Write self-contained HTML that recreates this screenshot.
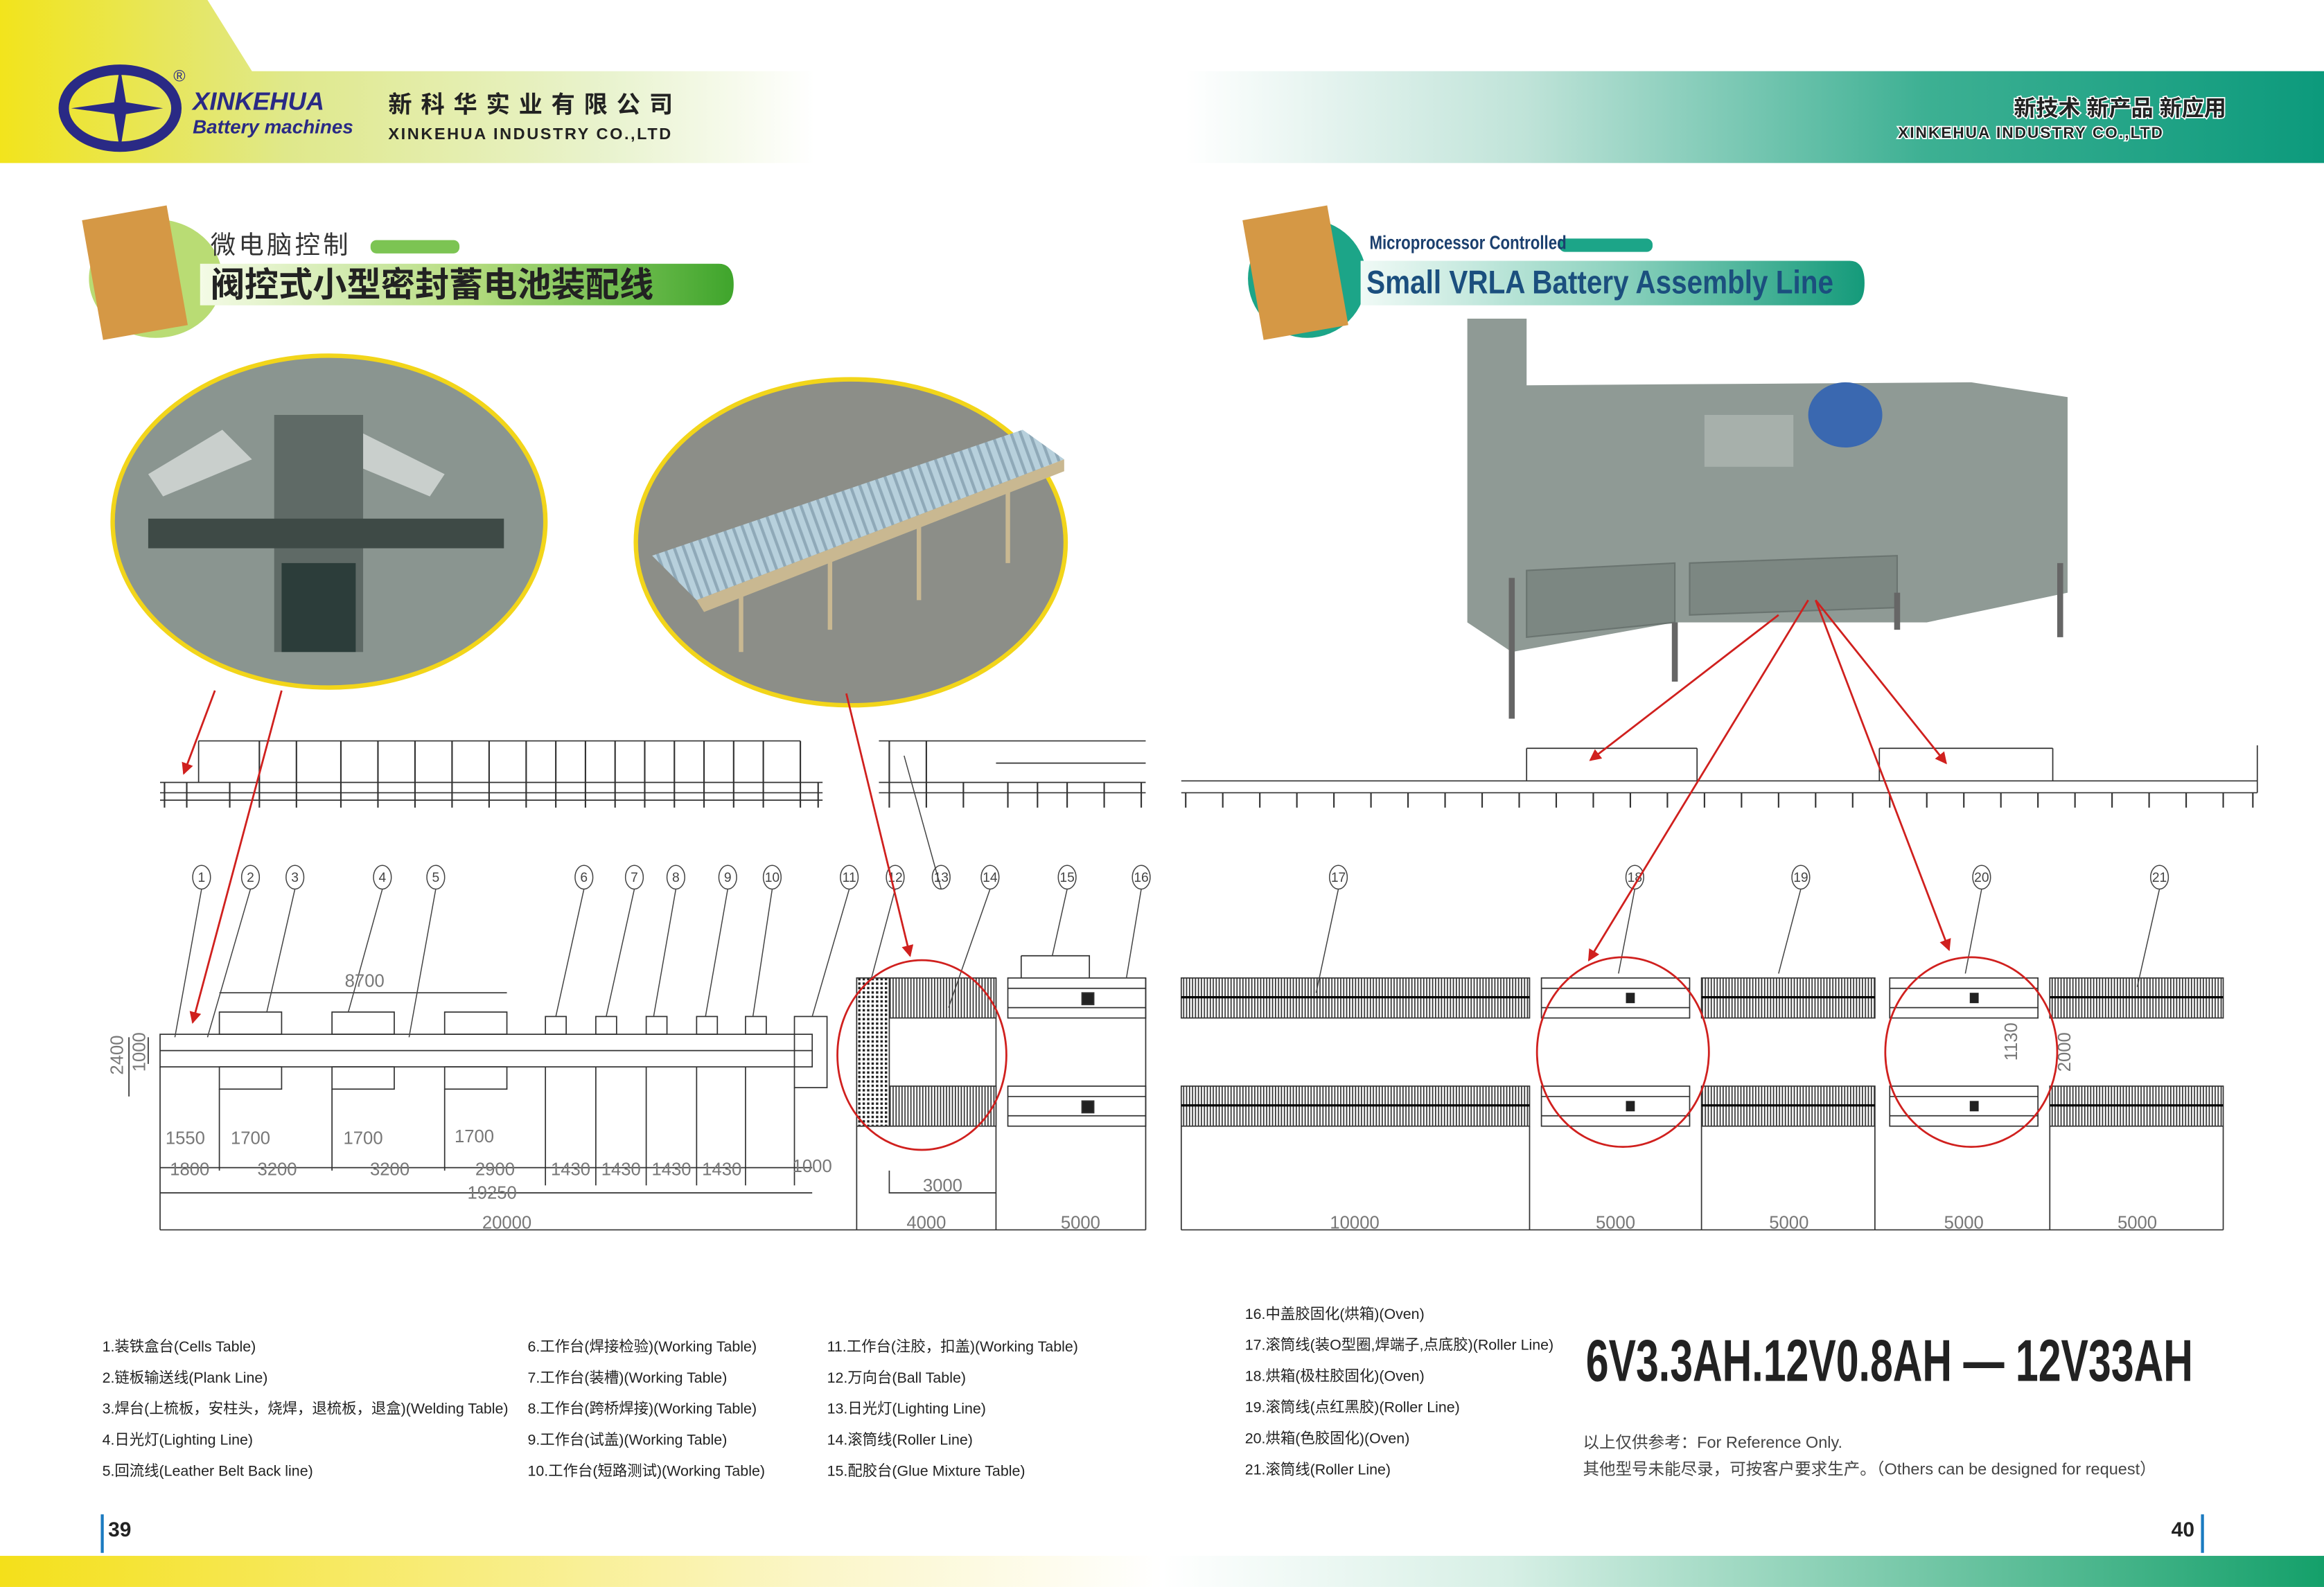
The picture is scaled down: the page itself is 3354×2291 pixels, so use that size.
<!DOCTYPE html>
<html><head><meta charset="utf-8"><style>
html,body{margin:0;padding:0;background:#fff;}
svg{display:block;}
text{font-family:"Liberation Sans","Noto Sans CJK SC",sans-serif;}
</style></head><body>
<svg width="3354" height="2291" viewBox="0 0 1568 1071" xmlns="http://www.w3.org/2000/svg">
<defs>
<linearGradient id="gy" x1="0" x2="1" y1="0" y2="0">
<stop offset="0" stop-color="#f2e41c"/><stop offset="0.35" stop-color="#dfe88a"/><stop offset="0.75" stop-color="#e9f3cf"/><stop offset="1" stop-color="#fff"/></linearGradient>
<linearGradient id="gg" x1="0" x2="1" y1="0" y2="0">
<stop offset="0" stop-color="#fff"/><stop offset="0.3" stop-color="#bfe3d8"/><stop offset="0.65" stop-color="#3db093"/><stop offset="1" stop-color="#0c9a7c"/></linearGradient>
<linearGradient id="gb" x1="0" x2="1"><stop offset="0" stop-color="#f4e01a"/><stop offset="0.35" stop-color="#fbf6c8"/><stop offset="0.5" stop-color="#fff"/><stop offset="0.65" stop-color="#d6efe5"/><stop offset="1" stop-color="#14a06a"/></linearGradient>
<linearGradient id="tg" x1="0" x2="1"><stop offset="0" stop-color="#f4fbe6"/><stop offset="0.5" stop-color="#b6dd80"/><stop offset="1" stop-color="#3fa52c"/></linearGradient>
<linearGradient id="tt" x1="0" x2="1"><stop offset="0" stop-color="#f0faf6"/><stop offset="0.5" stop-color="#8fd3c0"/><stop offset="1" stop-color="#149a7a"/></linearGradient>
<pattern id="hatch" width="2" height="10" patternUnits="userSpaceOnUse"><rect width="2" height="10" fill="#fff"/><line x1="0.6" y1="0" x2="0.6" y2="10" stroke="#333" stroke-width="0.8"/></pattern>
<pattern id="dots" width="3" height="3" patternUnits="userSpaceOnUse"><rect width="3" height="3" fill="#fff"/><rect width="1.6" height="1.6" fill="#222"/></pattern>
<pattern id="rol" width="6" height="6" patternUnits="userSpaceOnUse" patternTransform="rotate(-20)"><rect width="6" height="6" fill="#b7d0dc"/><rect width="2" height="6" fill="#8fa9b8"/></pattern>
<marker id="ar" markerWidth="8" markerHeight="8" refX="7" refY="4" orient="auto" markerUnits="userSpaceOnUse"><path d="M0,0 L8,4 L0,8 z" fill="#d0201e"/></marker>
</defs>

<!-- header left -->
<path d="M0,0 H140 L170,48 H550 V110 H0 Z" fill="url(#gy)"/>
<ellipse cx="81" cy="73" rx="38" ry="26" fill="none" stroke="#2a2a85" stroke-width="7"/>
<path d="M81,45 L85,69 L110,73 L85,77 L81,102 L77,77 L48,73 L77,69 Z" fill="#2a2a85"/>
<text x="117" y="55" font-size="11" fill="#2a2a85">®</text>
<text x="130" y="74" font-size="17" font-style="italic" font-weight="bold" fill="#2a2a85" font-family="Liberation Serif,serif">XINKEHUA</text>
<text x="130" y="90" font-size="13" font-style="italic" font-weight="bold" fill="#2a2a85" font-family="Liberation Serif,serif">Battery machines</text>
<text x="262" y="76" font-size="16" font-weight="bold" fill="#222" letter-spacing="6">新科华实业有限公司</text>
<text x="262" y="94" font-size="11" font-weight="bold" fill="#222" letter-spacing="1.2">XINKEHUA INDUSTRY CO.,LTD</text>
<!-- header right -->
<rect x="800" y="48" width="768" height="62" fill="url(#gg)"/>
<g stroke="#fff" stroke-width="1.6" paint-order="stroke" fill="#222" font-weight="bold">
<text x="1502" y="78" font-size="15" text-anchor="end">新技术 新产品 新应用</text>
<text x="1460" y="93" font-size="10.5" text-anchor="end" letter-spacing="1">XINKEHUA INDUSTRY CO.,LTD</text>
</g>

<!-- titles -->
<ellipse cx="105" cy="188" rx="45" ry="40" fill="#b9dc74"/>
<rect x="62" y="143" width="58" height="82" fill="#d59845" transform="rotate(-10 91 184)"/>
<path d="M135,178 H485 Q495,178 495,192 Q495,206 485,206 H135 Z" fill="url(#tg)"/>
<rect x="250" y="162" width="60" height="9" rx="4" fill="#7cc453"/>
<text x="142" y="171" font-size="17" fill="#333" letter-spacing="2">微电脑控制</text>
<text x="142" y="200" font-size="23" font-weight="bold" fill="#222" font-family="Noto Serif CJK SC,serif">阀控式小型密封蓄电池装配线</text>
<ellipse cx="882" cy="188" rx="40" ry="40" fill="#1ca588"/>
<rect x="845" y="143" width="58" height="82" fill="#d59845" transform="rotate(-10 874 184)"/>
<path d="M918,176 H1248 Q1258,176 1258,191 Q1258,206 1248,206 H918 Z" fill="url(#tt)"/>
<rect x="1052" y="161" width="63" height="9" rx="4" fill="#1ca588"/>
<text x="924" y="168" font-size="13" font-weight="bold" fill="#1b3f6e" transform="scale(0.8 1)" transform-origin="924 168">Microprocessor Controlled</text>
<text x="922" y="198" font-size="22" font-weight="bold" fill="#1b4f7e" transform="scale(0.86 1)" transform-origin="922 198">Small VRLA Battery Assembly Line</text>

<!-- photos -->
<ellipse cx="222" cy="352" rx="146" ry="112" fill="#8a9590" stroke="#f2d51a" stroke-width="3"/>
<path d="M150,290 L100,320 L110,335 L170,310 Z M240,290 L300,320 L290,335 L230,310 Z" fill="#c9cfcc"/>
<rect x="185" y="280" width="60" height="160" fill="#5f6a66"/>
<rect x="100" y="350" width="240" height="20" fill="#3e4a46"/>
<rect x="190" y="380" width="50" height="60" fill="#2c3d3a"/>
<ellipse cx="574" cy="366" rx="145" ry="110" fill="#8c8e88" stroke="#f2d51a" stroke-width="3"/>
<path d="M440,375 L690,290 L718,310 L470,405 Z" fill="url(#rol)"/>
<path d="M470,405 L718,310 L718,318 L475,413 Z" fill="#c9b891"/>
<path d="M500,400 V440 M560,375 V425 M620,352 V405 M680,330 V380" stroke="#c9b891" stroke-width="3"/>
<!-- machine photo -->
<path d="M990,215 H1030 V260 L1330,258 L1395,268 V400 L1300,420 L1130,420 L1020,440 L990,420 Z" fill="#8f9a95"/>
<path d="M1030,385 L1130,380 V420 L1030,430 Z M1140,380 L1280,375 V410 L1140,415 Z" fill="#7c8782" stroke="#6a7470" stroke-width="1"/>
<rect x="1150" y="280" width="60" height="35" fill="#a7b0ab"/>
<ellipse cx="1245" cy="280" rx="25" ry="22" fill="#3a68b0"/>
<path d="M1020,390 V485 M1130,420 V460 M1280,400 V425 M1390,380 V430" stroke="#666" stroke-width="4"/>

<!-- side elevation drawings -->
<g stroke="#333" stroke-width="0.8" fill="none">
<path d="M108,528 H555 M108,535 H555 M108,540 H555 M134,500 H540 M134,500 V528"/>
<path d="M593,528 H773 M593,535 H773 M593,500 H773 M672,515 H773"/>
<path d="M797,527 H1523 M797,535 H1523 M1030,505 H1145 M1268,505 H1385 M1030,505 V527 M1145,505 V527 M1268,505 V527 M1385,505 V527 M1523,503 V535"/>
</g>
<g stroke="#333" stroke-width="1">
<path d="M111,528 V545 M126,528 V545 M155,528 V545 M175,500 V545 M200,500 V545 M230,500 V545 M255,500 V545 M280,500 V545 M305,500 V545 M330,500 V545 M355,500 V545 M375,500 V545 M395,500 V545 M415,500 V545 M435,500 V545 M455,500 V545 M475,500 V545 M495,500 V545 M515,500 V545 M540,500 V545 M552,528 V545"/>
<path d="M600,500 V545 M625,500 V545 M650,528 V545 M680,528 V545 M700,528 V545 M720,528 V545 M745,528 V545 M770,528 V545"/>
<path d="M800,535 V545 M825,535 V545 M850,535 V545 M875,535 V545 M900,535 V545 M925,535 V545 M950,535 V545 M975,535 V545 M1000,535 V545 M1025,535 V545 M1050,535 V545 M1075,535 V545 M1100,535 V545 M1125,535 V545 M1150,535 V545 M1175,535 V545 M1200,535 V545 M1225,535 V545 M1250,535 V545 M1275,535 V545 M1300,535 V545 M1325,535 V545 M1350,535 V545 M1375,535 V545 M1400,535 V545 M1425,535 V545 M1450,535 V545 M1475,535 V545 M1500,535 V545 M1520,535 V545"/>
</g>

<!-- plan view left -->
<g stroke="#333" stroke-width="0.8" fill="none">
<rect x="108" y="698" width="440" height="22"/>
<path d="M108,709 H548"/>
<rect x="148" y="683" width="42" height="15"/><rect x="224" y="683" width="42" height="15"/><rect x="300" y="683" width="42" height="15"/>
<rect x="148" y="720" width="42" height="15"/><rect x="224" y="720" width="42" height="15"/><rect x="300" y="720" width="42" height="15"/>
<rect x="368" y="686" width="14" height="12"/><rect x="402" y="686" width="14" height="12"/><rect x="436" y="686" width="14" height="12"/><rect x="470" y="686" width="14" height="12"/><rect x="503" y="686" width="14" height="12"/><rect x="536" y="686" width="22" height="48"/>
<path d="M108,720 V830 M148,735 V790 M224,735 V790 M300,735 V790 M368,720 V800 M402,720 V800 M436,720 V800 M470,720 V800 M503,720 V800 M536,734 V800 M578,660 V830 M672,660 V830 M773,660 V830"/>
<path d="M108,788 H548 M108,805 H548 M108,830 H773 M148,670 H342 M87,700 V740 M100,700 V718"/>
<rect x="578" y="660" width="94" height="27" fill="url(#hatch)"/><rect x="578" y="733" width="94" height="27" fill="url(#hatch)"/>
<rect x="578" y="660" width="22" height="100" fill="url(#dots)"/>
<rect x="680" y="660" width="93" height="27"/><rect x="680" y="733" width="93" height="27"/>
<path d="M680,667 H773 M680,680 H773 M680,740 H773 M680,753 H773 M689,645 H735 V660 M689,645 V660"/>
<rect x="730" y="670" width="8" height="8" fill="#222"/><rect x="730" y="743" width="8" height="8" fill="#222"/>
<path d="M600,790 V805 H672"/>
</g>
<!-- plan right -->
<g stroke="#333" stroke-width="0.8" fill="none">
<rect x="797" y="660" width="235" height="27" fill="url(#hatch)"/><rect x="797" y="733" width="235" height="27" fill="url(#hatch)"/>
<rect x="1148" y="660" width="117" height="27" fill="url(#hatch)"/><rect x="1148" y="733" width="117" height="27" fill="url(#hatch)"/>
<rect x="1383" y="660" width="117" height="27" fill="url(#hatch)"/><rect x="1383" y="733" width="117" height="27" fill="url(#hatch)"/>
<rect x="1040" y="660" width="100" height="27"/><rect x="1040" y="733" width="100" height="27"/>
<rect x="1275" y="660" width="100" height="27"/><rect x="1275" y="733" width="100" height="27"/>
<path d="M1040,667 H1140 M1040,680 H1140 M1040,740 H1140 M1040,753 H1140 M1275,667 H1375 M1275,680 H1375 M1275,740 H1375 M1275,753 H1375"/>
<path d="M797,673 H1032 M797,746 H1032 M1148,673 H1265 M1148,746 H1265 M1383,673 H1500 M1383,746 H1500" stroke="#000" stroke-width="1.5"/>
<path d="M797,760 V830 M1032,760 V830 M1148,760 V830 M1265,760 V830 M1383,760 V830 M1500,760 V830 M797,830 H1500"/>
</g>
<g fill="#222"><rect x="1097" y="670" width="6" height="7"/><rect x="1097" y="743" width="6" height="7"/><rect x="1329" y="670" width="6" height="7"/><rect x="1329" y="743" width="6" height="7"/></g>

<g stroke="#444" stroke-width="0.7" fill="none">
<ellipse cx="136" cy="592" rx="6" ry="8"/><ellipse cx="169" cy="592" rx="6" ry="8"/><ellipse cx="199" cy="592" rx="6" ry="8"/><ellipse cx="258" cy="592" rx="6" ry="8"/><ellipse cx="294" cy="592" rx="6" ry="8"/><ellipse cx="394" cy="592" rx="6" ry="8"/><ellipse cx="428" cy="592" rx="6" ry="8"/><ellipse cx="456" cy="592" rx="6" ry="8"/><ellipse cx="491" cy="592" rx="6" ry="8"/><ellipse cx="521" cy="592" rx="6" ry="8"/><ellipse cx="573" cy="592" rx="6" ry="8"/><ellipse cx="604" cy="592" rx="6" ry="8"/><ellipse cx="635" cy="592" rx="6" ry="8"/><ellipse cx="668" cy="592" rx="6" ry="8"/><ellipse cx="720" cy="592" rx="6" ry="8"/><ellipse cx="770" cy="592" rx="6" ry="8"/>
<ellipse cx="903" cy="592" rx="6" ry="8"/><ellipse cx="1103" cy="592" rx="6" ry="8"/><ellipse cx="1215" cy="592" rx="6" ry="8"/><ellipse cx="1337" cy="592" rx="6" ry="8"/><ellipse cx="1457" cy="592" rx="6" ry="8"/>
<path d="M136,600 L118,700 M169,600 L140,700 M199,600 L180,683 M258,600 L235,683 M294,600 L276,700 M394,600 L375,686 M428,600 L409,686 M456,600 L441,686 M491,600 L476,686 M521,600 L508,686 M573,600 L548,686 M604,600 L588,660 M635,600 L610,510 M668,600 L640,680 M720,600 L710,645 M770,600 L760,660 M903,600 L888,670 M1103,600 L1092,657 M1215,600 L1200,657 M1337,600 L1326,657 M1457,600 L1442,666"/>
</g>
<g font-size="9" fill="#444" text-anchor="middle">
<text x="136" y="595">1</text><text x="169" y="595">2</text><text x="199" y="595">3</text><text x="258" y="595">4</text><text x="294" y="595">5</text><text x="394" y="595">6</text><text x="428" y="595">7</text><text x="456" y="595">8</text><text x="491" y="595">9</text><text x="521" y="595">10</text><text x="573" y="595">11</text><text x="604" y="595">12</text><text x="635" y="595">13</text><text x="668" y="595">14</text><text x="720" y="595">15</text><text x="770" y="595">16</text>
<text x="903" y="595">17</text><text x="1103" y="595">18</text><text x="1215" y="595">19</text><text x="1337" y="595">20</text><text x="1457" y="595">21</text>
</g>
<!-- dimensions -->
<g font-size="12" fill="#777" text-anchor="middle">
<text x="246" y="666">8700</text>
<text x="125" y="772">1550</text><text x="169" y="772">1700</text><text x="245" y="772">1700</text><text x="320" y="771">1700</text>
<text x="128" y="793">1800</text><text x="187" y="793">3200</text><text x="263" y="793">3200</text><text x="334" y="793">2900</text>
<text x="385" y="793">1430</text><text x="419" y="793">1430</text><text x="453" y="793">1430</text><text x="487" y="793">1430</text><text x="548" y="791">1000</text>
<text x="332" y="809">19250</text><text x="342" y="829">20000</text>
<text x="636" y="804">3000</text><text x="625" y="829">4000</text><text x="729" y="829">5000</text>
<text x="914" y="829">10000</text><text x="1090" y="829">5000</text><text x="1207" y="829">5000</text><text x="1325" y="829">5000</text><text x="1442" y="829">5000</text>
<text transform="translate(83,712) rotate(-90)">2400</text><text transform="translate(98,710) rotate(-90)">1000</text>
<text transform="translate(1361,703) rotate(-90)">1130</text><text transform="translate(1397,710) rotate(-90)">2000</text>
</g>

<!-- red arrows and circles -->
<g stroke="#d0201e" stroke-width="1.3" fill="none">
<path d="M145,466 L124,522" marker-end="url(#ar)"/>
<path d="M190,466 L130,690" marker-end="url(#ar)"/>
<path d="M571,468 L614,645" marker-end="url(#ar)"/>
<path d="M1200,415 L1073,513" marker-end="url(#ar)"/>
<path d="M1220,405 L1072,648" marker-end="url(#ar)"/>
<path d="M1225,405 L1313,515" marker-end="url(#ar)"/>
<path d="M1225,405 L1315,641" marker-end="url(#ar)"/>
<ellipse cx="622" cy="712" rx="57" ry="64"/>
<ellipse cx="1095" cy="710" rx="58" ry="64"/>
<ellipse cx="1330" cy="710" rx="58" ry="64"/>
</g>

<!-- legend -->
<g font-size="10" fill="#222">
<text x="69" y="912">1.装铁盒台(Cells Table)</text>
<text x="69" y="933">2.链板输送线(Plank Line)</text>
<text x="69" y="954">3.焊台(上梳板，安柱头，烧焊，退梳板，退盒)(Welding Table)</text>
<text x="69" y="975">4.日光灯(Lighting Line)</text>
<text x="69" y="996">5.回流线(Leather Belt Back line)</text>
<text x="356" y="912">6.工作台(焊接检验)(Working Table)</text>
<text x="356" y="933">7.工作台(装槽)(Working Table)</text>
<text x="356" y="954">8.工作台(跨桥焊接)(Working Table)</text>
<text x="356" y="975">9.工作台(试盖)(Working Table)</text>
<text x="356" y="996">10.工作台(短路测试)(Working Table)</text>
<text x="558" y="912">11.工作台(注胶，扣盖)(Working Table)</text>
<text x="558" y="933">12.万向台(Ball Table)</text>
<text x="558" y="954">13.日光灯(Lighting Line)</text>
<text x="558" y="975">14.滚筒线(Roller Line)</text>
<text x="558" y="996">15.配胶台(Glue Mixture Table)</text>
<text x="840" y="890">16.中盖胶固化(烘箱)(Oven)</text>
<text x="840" y="911">17.滚筒线(装O型圈,焊端子,点底胶)(Roller Line)</text>
<text x="840" y="932">18.烘箱(极柱胶固化)(Oven)</text>
<text x="840" y="953">19.滚筒线(点红黑胶)(Roller Line)</text>
<text x="840" y="974">20.烘箱(色胶固化)(Oven)</text>
<text x="840" y="995">21.滚筒线(Roller Line)</text>
</g>
<text x="1070" y="932" font-size="40" font-weight="bold" fill="#222" transform="scale(0.69 1)" transform-origin="1070 932">6V3.3AH.12V0.8AH — 12V33AH</text>
<text x="1068" y="977" font-size="11" fill="#444">以上仅供参考：For Reference Only.</text>
<text x="1068" y="995" font-size="11" fill="#444">其他型号未能尽录，可按客户要求生产。（Others can be designed for request）</text>

<!-- footer -->
<rect x="0" y="1050" width="1568" height="21" fill="url(#gb)"/>
<rect x="68" y="1022" width="2" height="26" fill="#1a7ac0"/>
<text x="73" y="1037" font-size="14" font-weight="bold" fill="#222">39</text>
<rect x="1485" y="1022" width="2" height="26" fill="#1a7ac0"/>
<text x="1465" y="1037" font-size="14" font-weight="bold" fill="#222">40</text>
</svg>
</body></html>
